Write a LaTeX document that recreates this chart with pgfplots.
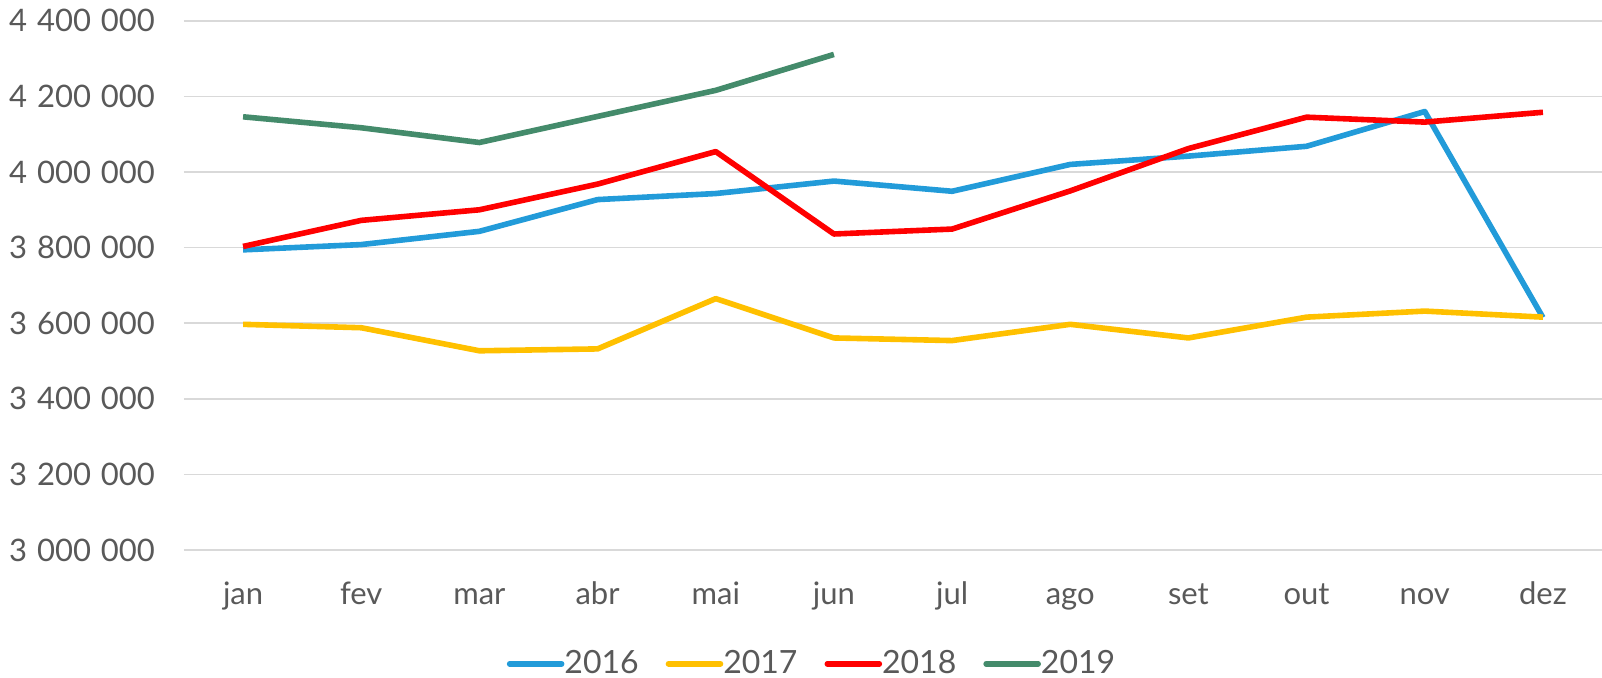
\documentclass[border=0pt]{standalone}
\usepackage{pgfplots}
\pgfplotsset{compat=1.18}
\usepackage{fontspec}
\setmainfont{Lato}
\definecolor{c16}{RGB}{34,155,217}
\definecolor{c17}{RGB}{255,192,0}
\definecolor{c18}{RGB}{255,0,0}
\definecolor{c19}{RGB}{68,139,107}
\definecolor{txt}{RGB}{89,89,89}
\definecolor{grd}{RGB}{217,217,217}
\newcommand{\gs}{\hspace{0.32em}}
\begin{document}
\begin{tikzpicture}
\path[use as bounding box] (-92pt,-64pt) rectangle (709pt,275pt);
\begin{axis}[
  at={(0,0)}, anchor=south west,
  scale only axis, width=709pt, height=264.6pt,
  xmin=-0.5, xmax=11.5, ymin=3000000, ymax=4400000,
  scaled y ticks=false,
  axis line style={draw=none},
  xtick={0,...,11},
  xticklabels={jan,fev,mar,abr,mai,jun,jul,ago,set,out,nov,dez},
  ytick={3000000,3200000,3400000,3600000,3800000,4000000,4200000,4400000},
  yticklabels={3\gs000\gs000,3\gs200\gs000,3\gs400\gs000,3\gs600\gs000,3\gs800\gs000,4\gs000\gs000,4\gs200\gs000,4\gs400\gs000},
  tick style={draw=none},
  ymajorgrids, grid style={grd, line width=0.8pt},
  ticklabel style={font=\fontsize{15.5}{17}\selectfont, text=txt},
  yticklabel style={xshift=-11pt},
  xticklabel style={text height=1.6ex, text depth=0.4ex, anchor=north, yshift=-15.5pt},
  legend style={at={(axis description cs:0.4436,-0.215)}, anchor=center, draw=none, fill=none, font=\fontsize{16}{18}\selectfont, text=txt,
    legend columns=4, /tikz/every even column/.append style={column sep=11.5pt},
    /tikz/every odd column/.append style={column sep=-2pt}},
  legend image code/.code={\draw[#1, line cap=round] (0pt,0pt) -- (26pt,0pt);},
  every axis plot/.append style={line width=2.8pt, line join=round},
]
\addplot[c16] coordinates {(0,3794000) (1,3808000) (2,3843000) (3,3927000) (4,3943000) (5,3976000) (6,3949000) (7,4020000) (8,4042000) (9,4068000) (10,4160000) (11,3615000)};
\addlegendentry{2016}
\addplot[c17] coordinates {(0,3597000) (1,3588000) (2,3527000) (3,3532000) (4,3665000) (5,3561000) (6,3554000) (7,3597000) (8,3561000) (9,3616000) (10,3632000) (11,3616000)};
\addlegendentry{2017}
\addplot[c18] coordinates {(0,3803000) (1,3872000) (2,3900000) (3,3968000) (4,4054000) (5,3836000) (6,3849000) (7,3950000) (8,4062000) (9,4145000) (10,4132000) (11,4158000)};
\addlegendentry{2018}
\addplot[c19] coordinates {(0,4146000) (1,4117000) (2,4078000) (3,4147000) (4,4216000) (5,4311000)};
\addlegendentry{2019}
\end{axis}
\end{tikzpicture}
\end{document}
